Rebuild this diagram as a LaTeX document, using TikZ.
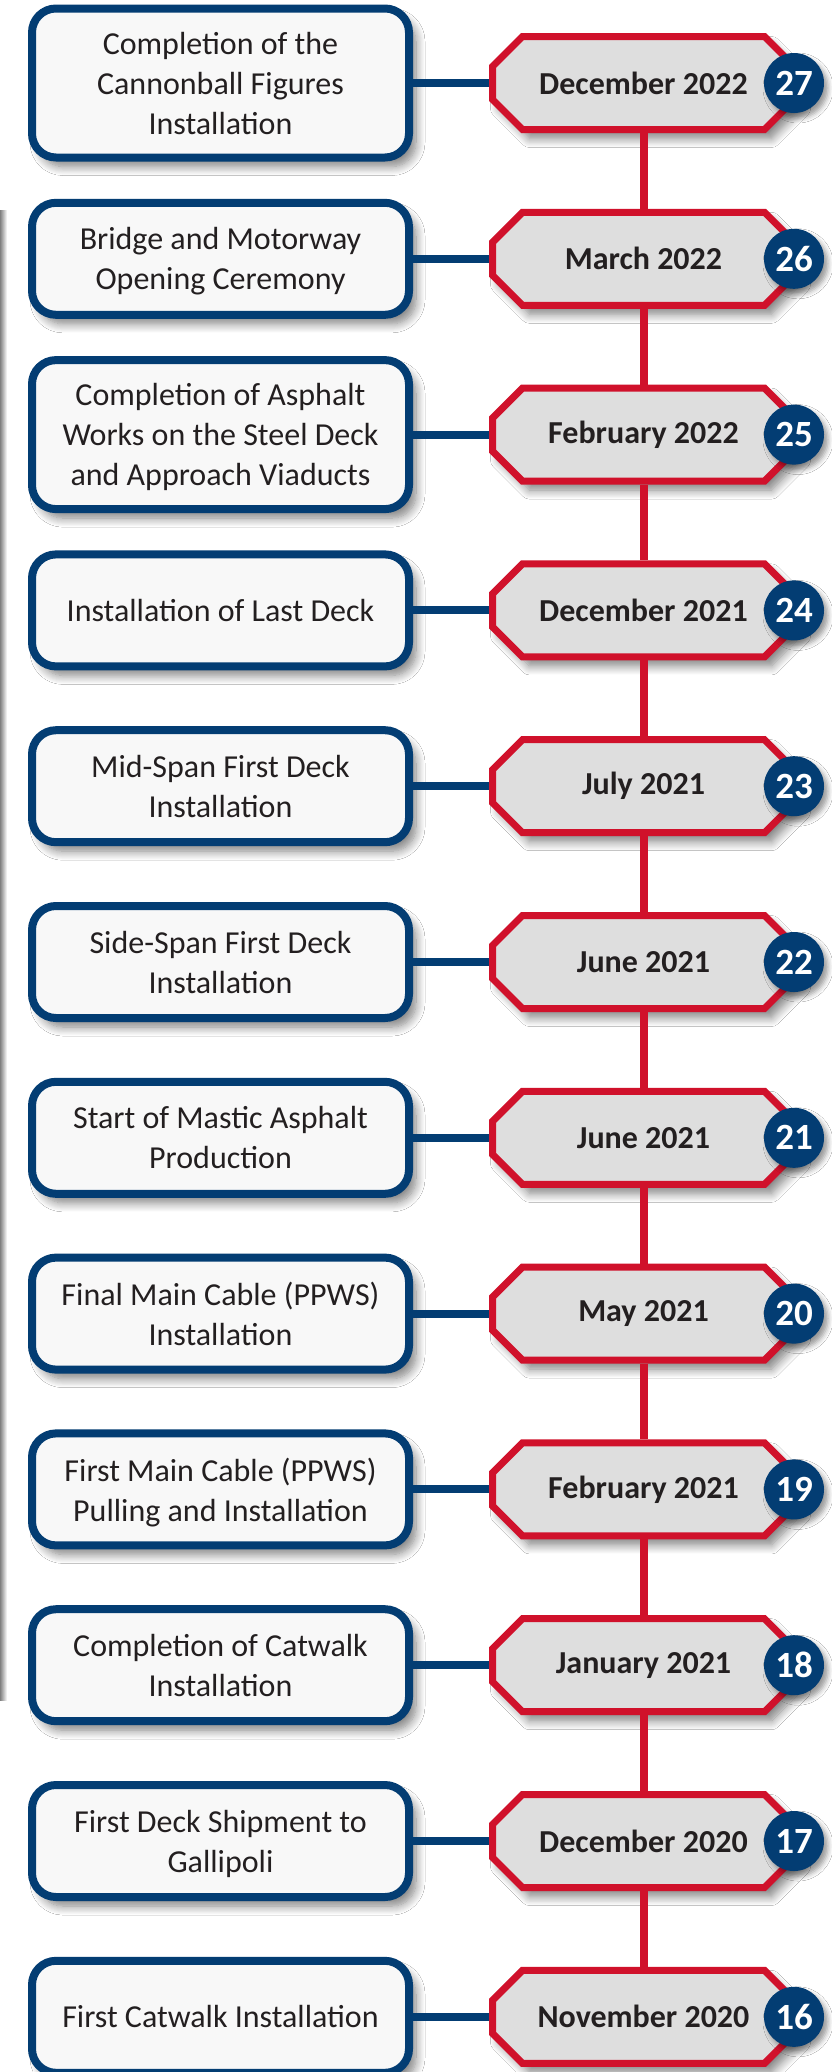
\documentclass[tikz,border=0pt]{standalone}
\usepackage{fontspec}
\setmainfont{Carlito}
\usetikzlibrary{shadows.blur}
\definecolor{navy}{HTML}{033D73}
\definecolor{crim}{HTML}{D0112B}
\definecolor{octfill}{HTML}{DEDEDE}
\definecolor{boxfill}{HTML}{F8F8F8}
\definecolor{txt}{HTML}{231F20}
\tikzset{
  softshadow/.style={blur shadow={shadow xshift=7pt, shadow yshift=-9pt, shadow blur radius=9pt, shadow blur steps=10, shadow opacity=50}},
  eventbox/.style={draw=navy, line width=8pt, fill=boxfill, rounded corners=24pt,
    minimum width=377pt, minimum height=112pt, inner sep=0pt, align=center,
    text depth=-8pt,
    text=txt, font=\fontsize{32}{40}\selectfont, softshadow},
  tallbox/.style={minimum height=149pt},
  dateframe/.style={minimum width=309pt, minimum height=100pt, inner sep=0pt, outer sep=0pt},
  datetext/.style={inner sep=0pt, text=txt, font=\bfseries\fontsize{32}{38}\selectfont},
  octline/.style={draw=crim, line width=7pt, fill=octfill, line join=miter, softshadow},
  numdisc/.style={circle, fill=navy, minimum size=60pt, inner sep=0pt, text=white,
    font=\bfseries\fontsize{37}{42}\selectfont,
    blur shadow={shadow xshift=4pt, shadow yshift=-5pt, shadow blur radius=5pt, shadow opacity=40}},
  linkline/.style={navy, line width=8pt},
  spine/.style={crim, line width=8pt},
}
\begin{document}
\begin{tikzpicture}[x=1pt,y=-1pt]
\useasboundingbox (0,0) rectangle (832,2072);
\fill[white] (0,0) rectangle (832,2072);
\shade[left color=black!50, right color=white] (0,210) rectangle (7,1700);
\foreach \n/\dt/\txt/\tall [count=\i from 0] in {
  27/December 2022/{Completion of the\\Cannonball Figures\\Installation}/1,
  26/March 2022/{Bridge and Motorway\\Opening Ceremony}/0,
  25/February 2022/{Completion of Asphalt\\Works on the Steel Deck\\and Approach Viaducts}/1,
  24/December 2021/{Installation of Last Deck}/0,
  23/July 2021/{Mid-Span First Deck\\Installation}/0,
  22/June 2021/{Side-Span First Deck\\Installation}/0,
  21/June 2021/{Start of Mastic Asphalt\\Production}/0,
  20/May 2021/{Final Main Cable (PPWS)\\Installation}/0,
  19/February 2021/{First Main Cable (PPWS)\\Pulling and Installation}/0,
  18/January 2021/{Completion of Catwalk\\Installation}/0,
  17/December 2020/{First Deck Shipment to\\Gallipoli}/0,
  16/November 2020/{First Catwalk Installation}/0}
{
  \pgfmathsetmacro{\y}{83+175.8*\i}
  \ifnum\tall=1
    \node[eventbox, tallbox] (b\n) at (220.5,\y) {\txt};
  \else
    \node[eventbox] (b\n) at (220.5,\y) {\txt};
  \fi
  \node[dateframe] (d\n) at (643.5,\y) {};
  \draw[octline] (492.5,\y-16.5) -- (522.5,\y-46.5) -- (764.5,\y-46.5) -- (794.5,\y-16.5)
     -- (794.5,\y+16.5) -- (764.5,\y+46.5) -- (522.5,\y+46.5) -- (492.5,\y+16.5) -- cycle;
  \node[datetext] (t\n) at (643.5,\y) {\dt};
  \node[numdisc] (n\n) at (794,\y) {\n};
}
\foreach \n in {27,26,...,16}{
  \draw[linkline] (b\n.east) -- (d\n.west);
}
\foreach \a/\b in {27/26,26/25,25/24,24/23,23/22,22/21,21/20,20/19,19/18,18/17,17/16}{
  \draw[spine] (d\a.south) -- (d\b.north);
}
\end{tikzpicture}
\end{document}
